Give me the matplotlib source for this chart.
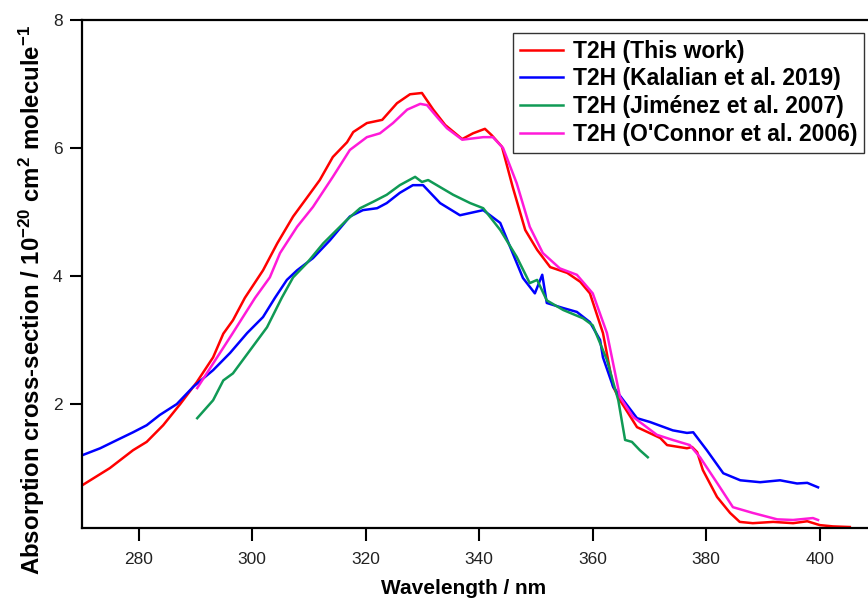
import matplotlib
matplotlib.use("Agg")
import matplotlib.pyplot as plt

# ---- data ----
red_x = [270.0, 274.9, 279.0, 281.4, 284.3, 287.3, 290.2, 293.1, 294.9, 296.6, 298.7,
         301.9, 304.4, 307.2, 309.6, 311.9, 314.2, 316.7, 317.8, 320.2, 322.9, 325.5,
         327.8, 329.9, 331.9, 334.0, 337.0, 338.9, 341.0, 342.2, 344.0, 345.9, 348.1,
         350.2, 352.5, 355.5, 357.8, 359.5, 361.8, 363.6, 364.8, 367.8, 371.9, 373.1,
         376.6, 377.5, 378.4, 379.4, 381.9, 384.2, 385.9, 388.2, 391.8, 395.3, 397.8,
         400.0, 402.3, 405.3]
red_y = [0.73, 1.00, 1.28, 1.41, 1.67, 2.00, 2.34, 2.73, 3.10, 3.31, 3.66,
         4.09, 4.51, 4.93, 5.22, 5.50, 5.86, 6.09, 6.25, 6.39, 6.44, 6.70,
         6.84, 6.86, 6.60, 6.36, 6.14, 6.23, 6.30, 6.20, 6.02, 5.39, 4.72,
         4.41, 4.14, 4.05, 3.91, 3.73, 3.11, 2.27, 2.06, 1.64, 1.47, 1.36,
         1.31, 1.33, 1.25, 0.97, 0.55, 0.30, 0.16, 0.14, 0.16, 0.14, 0.17,
         0.11, 0.09, 0.08]

blue_x = [270.0, 273.2, 276.2, 279.0, 281.4, 283.7, 286.7, 289.6, 293.1, 296.1, 299.1,
          301.9, 304.0, 306.1, 307.9, 310.7, 313.7, 317.2, 319.5, 322.0, 323.7, 326.0,
          328.3, 330.1, 333.1, 336.6, 340.7, 343.7, 347.7, 349.8, 351.1, 351.9, 354.8,
          357.2, 359.5, 361.3, 361.8, 363.6, 367.8, 370.1, 374.1, 376.6, 377.7, 380.1,
          383.0, 386.0, 389.5, 393.0, 396.0, 397.8, 399.7]
blue_y = [1.20, 1.31, 1.44, 1.56, 1.67, 1.83, 2.00, 2.27, 2.53, 2.80, 3.11,
          3.36, 3.66, 3.94, 4.09, 4.28, 4.56, 4.93, 5.03, 5.06, 5.14, 5.30,
          5.42, 5.42, 5.14, 4.95, 5.03, 4.83, 3.97, 3.73, 4.02, 3.58, 3.50,
          3.44, 3.28, 3.00, 2.73, 2.27, 1.78, 1.72, 1.59, 1.55, 1.56, 1.28,
          0.92, 0.81, 0.78, 0.81, 0.76, 0.77, 0.70]

green_x = [290.3, 293.1, 294.9, 296.6, 299.6, 302.6, 305.2, 307.2, 309.6, 312.5, 316.7,
           319.0, 321.3, 323.7, 326.0, 328.7, 329.9, 331.0, 333.1, 335.4, 338.4, 340.7,
           343.7, 346.6, 348.9, 350.2, 351.9, 354.8, 358.3, 360.0, 362.5, 364.5, 365.7,
           366.9, 368.3, 369.7]
green_y = [1.78, 2.06, 2.37, 2.48, 2.84, 3.20, 3.66, 3.98, 4.20, 4.51, 4.88,
           5.06, 5.16, 5.27, 5.42, 5.55, 5.47, 5.50, 5.39, 5.27, 5.14, 5.06,
           4.72, 4.30, 3.89, 3.94, 3.62, 3.47, 3.34, 3.23, 2.69, 2.06, 1.44,
           1.41, 1.28, 1.17]

mag_x = [290.3, 293.0, 296.5, 300.5, 303.1, 304.9, 307.9, 310.7, 314.2, 317.2, 320.2,
         322.5, 324.8, 327.3, 329.6, 330.8, 332.6, 334.3, 337.0, 340.7, 342.4, 344.2,
         346.6, 348.9, 351.2, 354.2, 357.2, 360.0, 362.5, 364.8, 367.1, 371.3, 374.1,
         377.1, 378.9, 381.9, 384.7, 388.2, 392.5, 395.3, 398.8, 399.7]
mag_y = [2.25, 2.62, 3.10, 3.66, 3.98, 4.36, 4.77, 5.08, 5.55, 5.97, 6.17,
         6.23, 6.39, 6.60, 6.69, 6.67, 6.48, 6.31, 6.13, 6.17, 6.17, 6.00,
         5.45, 4.77, 4.36, 4.12, 4.02, 3.73, 3.11, 2.11, 1.80, 1.52, 1.44,
         1.36, 1.17, 0.77, 0.39, 0.30, 0.20, 0.19, 0.22, 0.19]

labels = ["T2H (This work)", "T2H (Kalalian et al. 2019)",
          "T2H (Jiménez et al. 2007)", "T2H (O'Connor et al. 2006)"]
colors = ["#ff0000", "#0000ff", "#109a55", "#ff1ad9"]

xticks = [280, 300, 320, 340, 360, 380, 400]
yticks = [2, 4, 6, 8]

plt.rcParams['font.family'] = ['Liberation Sans', 'DejaVu Sans']
plt.rcParams['mathtext.fontset'] = 'custom'
plt.rcParams['mathtext.rm'] = 'Liberation Sans:bold'
plt.rcParams['mathtext.default'] = 'rm'

W, H = 868, 603
fig = plt.figure(figsize=(W / 100, H / 100), dpi=100)
left_px, right_px, top_px, bot_px = 82, 876.5, 20, 528.3
ax = fig.add_axes([left_px / W, 1 - bot_px / H, (right_px - left_px) / W, (bot_px - top_px) / H])

series = [(red_x, red_y), (blue_x, blue_y), (green_x, green_y), (mag_x, mag_y)]
for (xs, ys), c, lab in zip(series, colors, labels):
    ax.plot(xs, ys, color=c, lw=1.8, label=lab)

ax.set_xlim(270, 410)
ax.set_ylim(0.06, 8)
ax.set_xticks(xticks)
ax.set_yticks(yticks)
ax.tick_params(direction='out', length=9, width=1.5, labelsize=12.5, colors='black',
               labelcolor='#222222')
ax.tick_params(axis='x', pad=8)
ax.tick_params(axis='y', pad=5)
for s in ax.spines.values():
    s.set_linewidth(1.6)

leg = ax.legend(loc='upper left', bbox_to_anchor=((513 - left_px) / (right_px - left_px),
                                                   (bot_px - 33) / (bot_px - top_px)),
                borderaxespad=0, frameon=True, fancybox=False, framealpha=1,
                prop={'weight': 'bold', 'size': 16.5}, handlelength=1.9,
                handletextpad=0.4, labelspacing=0.2, borderpad=0.3)
leg.get_frame().set_edgecolor('#333333')
leg.get_frame().set_linewidth(1.0)
for t in leg.get_texts():
    t.set_color('black')

fig.text(464 / W, 1 - 589 / H, "Wavelength / nm", ha='center', va='center',
         fontsize=15, fontweight='bold')
fig.text(32 / W, 1 - 300 / H,
         "Absorption cross-section / 10$^{-20}$ cm$^{2}$ molecule$^{-1}$",
         ha='center', va='center', rotation=90, fontsize=17.3, fontweight='bold')

fig.savefig("out.png", dpi=100)
